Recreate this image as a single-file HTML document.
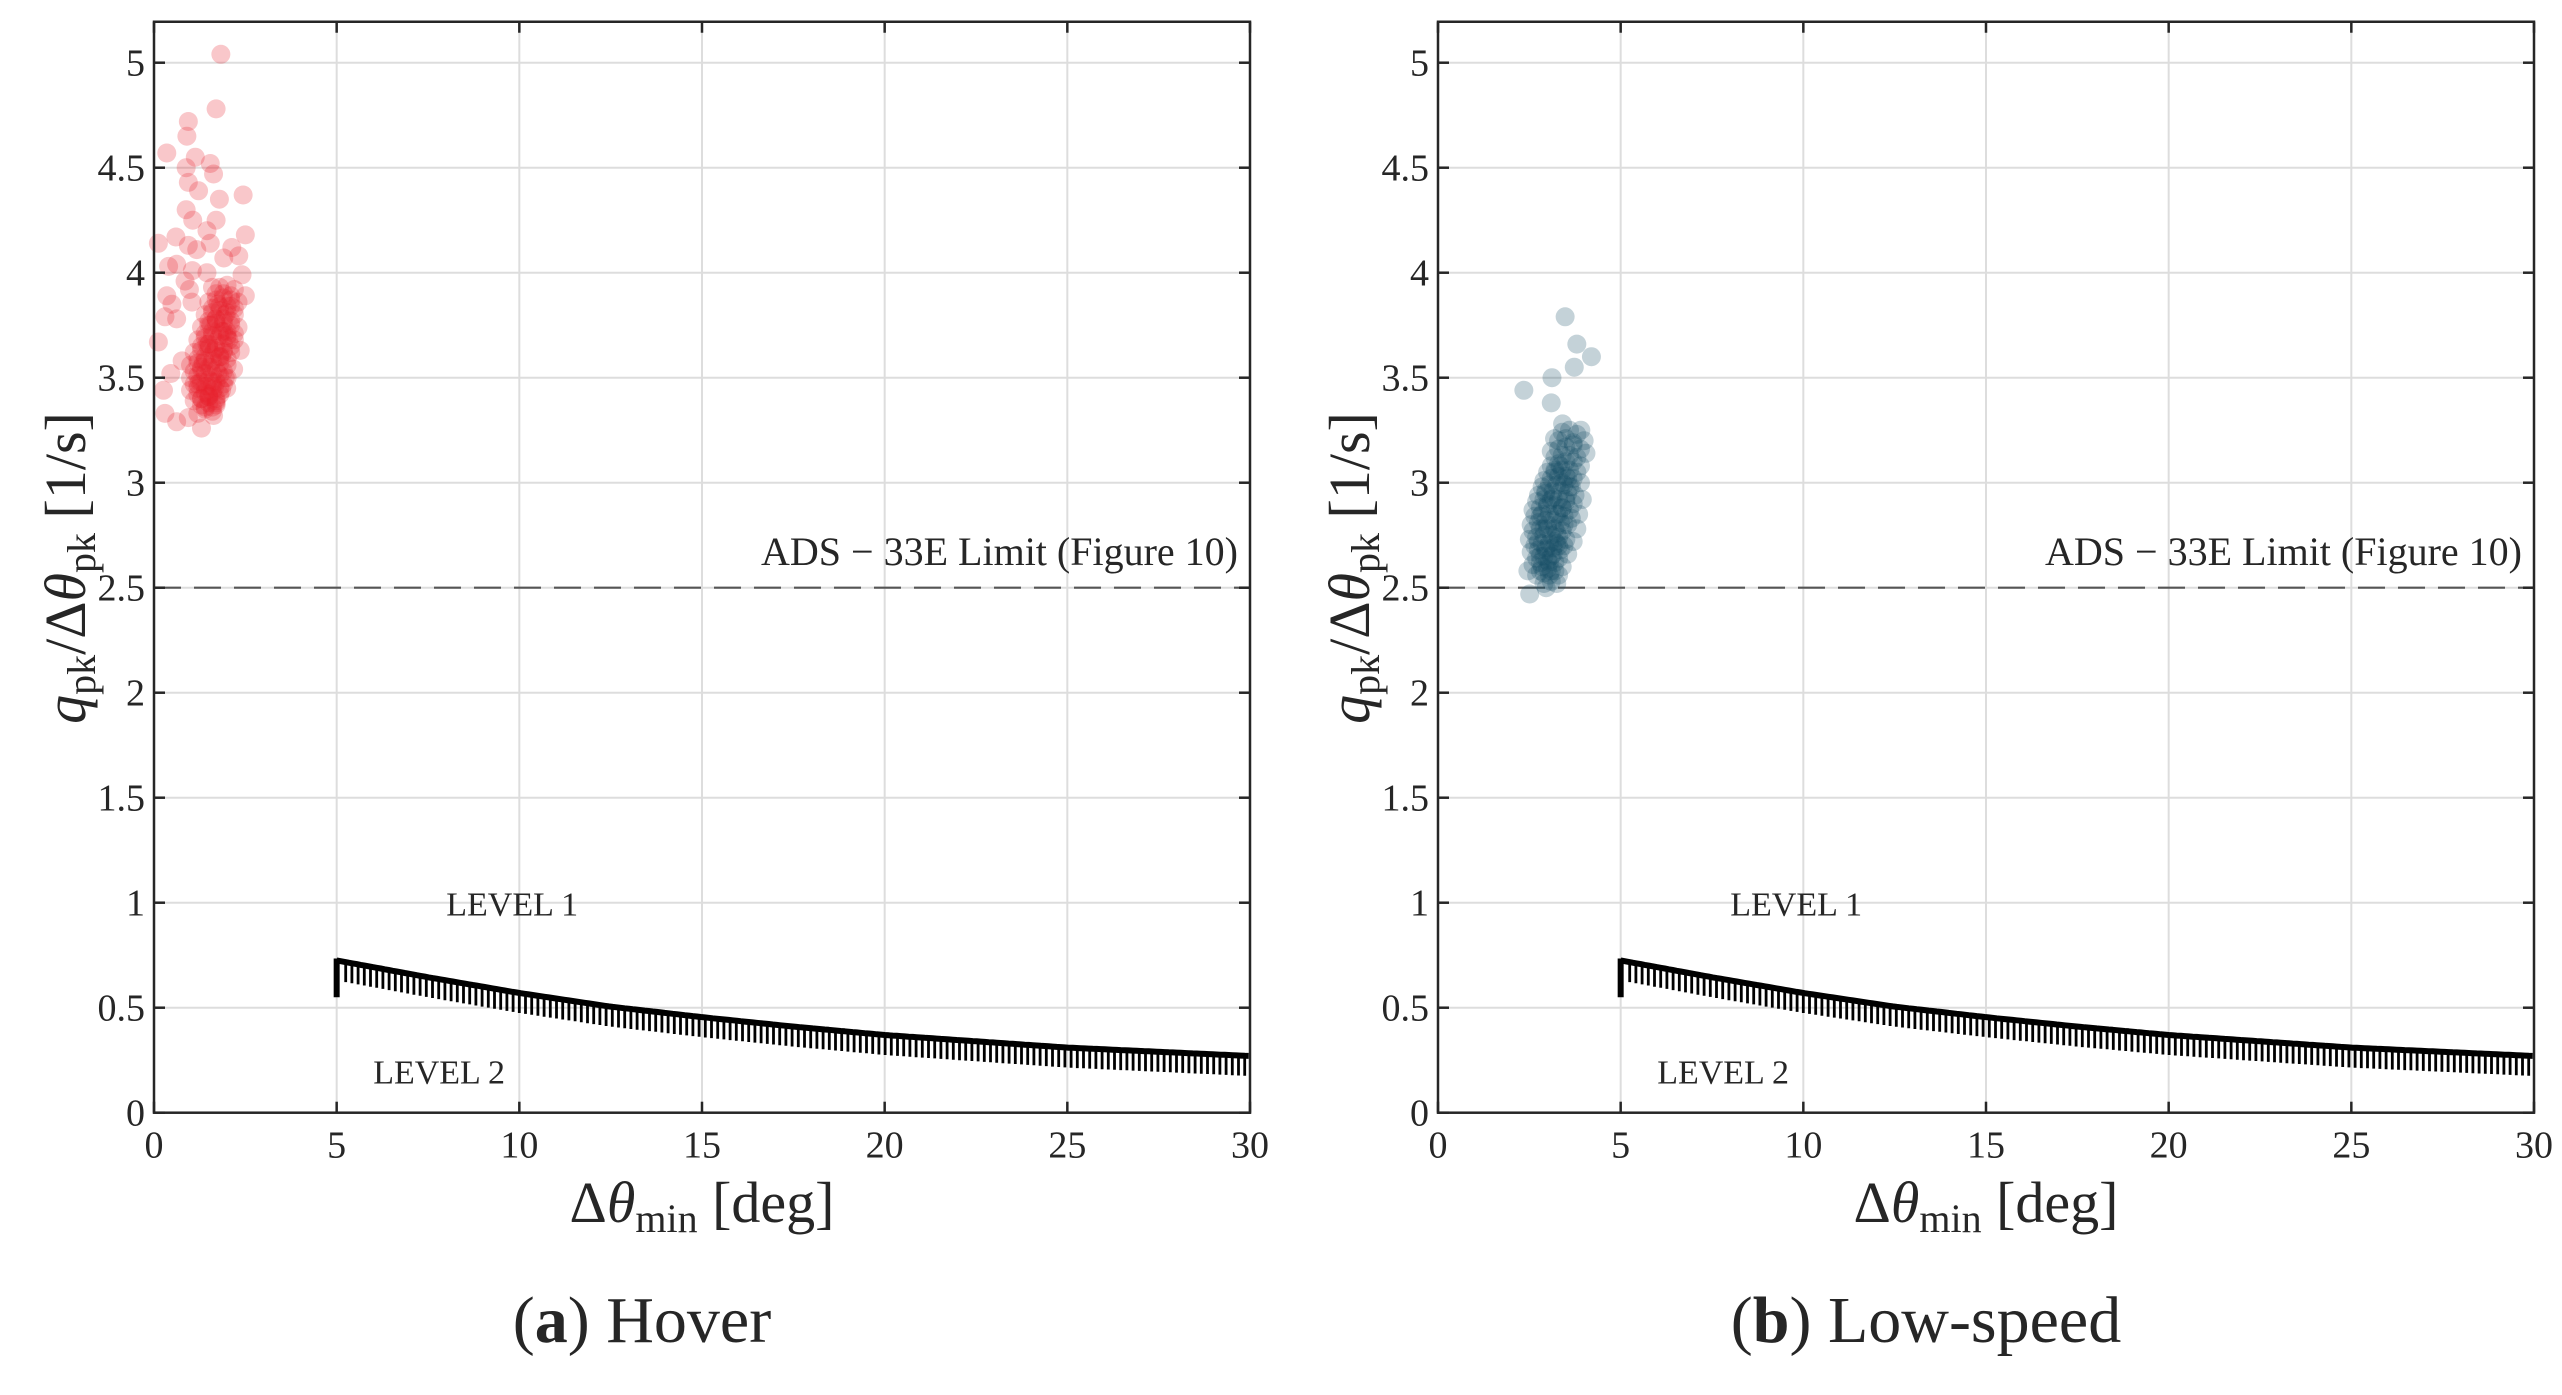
<!DOCTYPE html>
<html><head><meta charset="utf-8">
<style>
html,body{margin:0;padding:0;background:#fff;}
svg{display:block;}
text{font-family:"Liberation Serif","DejaVu Serif",serif;fill:#262626;}
</style></head>
<body>
<svg id="fig" width="2562" height="1395" viewBox="0 0 2562 1395" xmlns="http://www.w3.org/2000/svg"></svg>
<script>
// ---- data ----
const xTicks = [0,5,10,15,20,25,30];
const yTicks = [0,0.5,1,1.5,2,2.5,3,3.5,4,4.5,5];
const yTickLabels = ["0","0.5","1","1.5","2","2.5","3","3.5","4","4.5","5"];
const limitValue = 2.5;
const boundaryX = [5,7.5,10,12.5,15,17.5,20,22.5,25,27.5,30];
const boundaryY = [0.725,0.645,0.57,0.505,0.455,0.41,0.37,0.34,0.31,0.29,0.27];
const boundaryStubBottom = 0.55;
// Hover scatter (outliers + dense core)
const hoverX = [1.83,1.70,0.94,0.90,0.35,1.13,1.54,0.88,1.63,0.94,1.22,2.44,1.79,0.88,1.06,1.70,1.45,0.60,2.50,0.12,0.94,1.54,1.17,2.13,2.32,1.91,0.62,0.40,1.05,1.45,2.41,0.85,0.97,0.35,2.50,1.04,0.49,0.30,0.62,0.12,0.46,0.26,0.30,0.62,0.94,1.30,1.63,0.77,2.36,2.18,1.99,
 1.6,1.8,2.0,2.2, 1.5,1.7,1.9,2.1,2.3, 1.4,1.6,1.8,2.0,2.2, 1.3,1.5,1.7,1.9,2.1,2.3, 1.2,1.4,1.6,1.8,2.0,2.2, 1.1,1.3,1.5,1.7,1.9,2.1, 1.0,1.2,1.4,1.6,1.8,2.0, 1.0,1.2,1.4,1.6,1.8,2.0, 1.0,1.2,1.4,1.6,1.8, 1.1,1.3,1.5,1.7, 1.2,1.4,1.6, 1.7,1.9,2.1,1.5,1.8,2.0,1.3,1.6,1.9,1.2,1.5,1.7,
 1.7,1.9,2.1, 1.6,1.8,2.0,2.2, 1.5,1.7,1.9,2.1, 1.4,1.6,1.8,2.0,2.2, 1.3,1.5,1.7,1.9,2.1, 1.2,1.4,1.6,1.8,2.0, 1.1,1.3,1.5,1.7,1.9, 1.1,1.3,1.5,1.7,1.9, 1.2,1.4,1.6,1.8, 1.3,1.5,1.7,
 1.75,1.95,1.55,1.85,2.05,1.45,1.65,1.85,1.35,1.55,1.75,1.95,1.25,1.45,1.65,1.85,1.3,1.5,1.7,1.4,1.6];
const hoverY = [5.04,4.78,4.72,4.65,4.57,4.55,4.52,4.50,4.47,4.43,4.39,4.37,4.35,4.30,4.25,4.25,4.20,4.17,4.18,4.14,4.13,4.14,4.11,4.12,4.08,4.07,4.04,4.03,4.01,4.00,3.99,3.96,3.92,3.89,3.89,3.86,3.85,3.79,3.78,3.67,3.52,3.44,3.33,3.29,3.31,3.26,3.32,3.58,3.63,3.54,3.45,
 3.93,3.93,3.94,3.92, 3.86,3.87,3.88,3.87,3.86, 3.80,3.81,3.82,3.81,3.80, 3.74,3.75,3.76,3.76,3.75,3.74, 3.68,3.69,3.70,3.70,3.69,3.68, 3.62,3.63,3.64,3.64,3.63,3.62, 3.56,3.57,3.58,3.58,3.57,3.56, 3.50,3.51,3.52,3.52,3.51,3.50, 3.44,3.45,3.46,3.46,3.45, 3.39,3.40,3.41,3.40, 3.33,3.35,3.34, 3.78,3.72,3.84,3.66,3.60,3.70,3.55,3.48,3.62,3.47,3.42,3.38,
 3.90,3.90,3.89, 3.83,3.84,3.84,3.83, 3.77,3.78,3.78,3.77, 3.71,3.72,3.73,3.72,3.71, 3.65,3.66,3.67,3.66,3.65, 3.59,3.60,3.61,3.60,3.59, 3.53,3.54,3.55,3.54,3.53, 3.47,3.48,3.49,3.48,3.47, 3.42,3.43,3.43,3.42, 3.37,3.38,3.37,
 3.85,3.80,3.75,3.72,3.68,3.66,3.63,3.60,3.57,3.55,3.52,3.50,3.48,3.46,3.45,3.44,3.40,3.41,3.39,3.36,3.36];
// Low-speed scatter
const lowX = [3.48,3.80,4.20,3.73,3.12,2.35,3.10,3.41,3.91,3.19,2.51,2.96,2.46,
 3.4,3.6,3.8,4.0, 3.3,3.5,3.7,3.9,4.05, 3.1,3.3,3.5,3.7,3.9, 2.9,3.1,3.3,3.5,3.7,3.9, 2.75,2.95,3.15,3.35,3.55,3.75,3.95, 2.6,2.8,3.0,3.2,3.4,3.6,3.85, 2.55,2.75,2.95,3.15,3.35,3.55,3.8, 2.5,2.7,2.9,3.1,3.3,3.5,3.7, 2.55,2.75,2.95,3.15,3.35,3.55, 2.6,2.8,3.0,3.2,3.4, 2.7,2.9,3.1,3.3, 2.9,3.1,3.25,
 3.2,3.4,3.6,3.0,3.3,3.5,2.9,3.2,3.45,2.8,3.05,3.3,
 3.3,3.5,3.7, 3.2,3.4,3.6,3.8, 3.0,3.2,3.4,3.6,3.8, 2.85,3.05,3.25,3.45,3.65, 2.7,2.9,3.1,3.3,3.5,3.7, 2.65,2.85,3.05,3.25,3.45,3.65, 2.6,2.8,3.0,3.2,3.4, 2.65,2.85,3.05,3.25,3.45, 2.7,2.9,3.1,3.3, 2.8,3.0,3.2,
 3.1,3.35,3.55,2.95,3.15,3.4,2.8,3.0,3.25,2.75,2.95,3.15,2.85,3.05];
const lowY = [3.79,3.66,3.60,3.55,3.50,3.44,3.38,3.28,3.25,3.21,2.47,2.50,2.58,
 3.24,3.25,3.23,3.20, 3.16,3.17,3.18,3.16,3.14, 3.08,3.09,3.10,3.10,3.08, 3.01,3.02,3.03,3.03,3.02,3.00, 2.94,2.95,2.96,2.96,2.95,2.94,2.92, 2.87,2.88,2.89,2.89,2.88,2.87,2.85, 2.80,2.81,2.82,2.82,2.81,2.80,2.78, 2.73,2.74,2.75,2.75,2.74,2.73,2.72, 2.67,2.68,2.69,2.69,2.68,2.66, 2.61,2.62,2.63,2.62,2.60, 2.56,2.57,2.58,2.56, 2.52,2.53,2.52,
 3.05,3.0,2.98,2.9,2.85,2.92,2.78,2.72,2.8,2.65,2.62,2.7,
 3.20,3.21,3.19, 3.12,3.13,3.13,3.12, 3.05,3.06,3.06,3.06,3.05, 2.98,2.99,2.99,2.99,2.98, 2.91,2.92,2.92,2.92,2.91,2.90, 2.84,2.85,2.85,2.85,2.84,2.83, 2.77,2.78,2.78,2.78,2.77, 2.70,2.71,2.71,2.71,2.70, 2.64,2.65,2.65,2.64, 2.58,2.59,2.58,
 3.15,3.08,3.02,2.96,2.93,2.88,2.84,2.80,2.76,2.72,2.68,2.66,2.60,2.56];

// ---- drawing ----
const NS = "http://www.w3.org/2000/svg";
const svg = document.getElementById('fig');
function mk(tag, attrs, parent){
  const e = document.createElementNS(NS, tag);
  for (const k in attrs) e.setAttribute(k, attrs[k]);
  (parent||svg).appendChild(e);
  return e;
}
const Y0 = 1112.7, YS = 210, YMAX = 5.195;
const PW = 1096;

function drawPanel(left, px, py, color, alpha, panelName, capLetter, capText){
  const right = left + PW;
  const sx = v => left + v * PW / 30;
  const sy = v => Y0 - v * YS;
  const top = sy(YMAX);
  const g = mk('g', {});
  
  

  const grid = mk('g', {}, g);
  
  
  xTicks.forEach(t => { if (t>0 && t<30) mk('line',{x1:sx(t),x2:sx(t),y1:top,y2:Y0,stroke:'#dddddd','stroke-width':2},grid); });
  yTicks.forEach(t => { if (t>0) mk('line',{x1:left,x2:right,y1:sy(t),y2:sy(t),stroke:'#dddddd','stroke-width':2},grid); });

  const lim = mk('line',{x1:left,x2:right,y1:sy(limitValue),y2:sy(limitValue),stroke:'#555','stroke-width':2.2,'stroke-dasharray':'27 13'}, g);
  
  
  const lt = mk('text',{x:right-12,y:565,'font-size':40,'text-anchor':'end'}, g);
  lt.textContent = 'ADS \u2212 33E Limit (Figure 10)';
  
  

  const sc = mk('g', {}, g);
  
  
  px.forEach((v,i) => {
    const c = mk('circle',{cx:sx(v),cy:sy(py[i]),r:9.5,fill:color,'fill-opacity':alpha}, sc);
    
    
  });

  const bd = mk('g', {}, g);
  
  
  const bx0 = boundaryX[0], bx1 = boundaryX[boundaryX.length-1];
  const interp = x => {
    x = Math.min(Math.max(x, bx0), bx1);
    for (let i=0;i<boundaryX.length-1;i++){
      if (x>=boundaryX[i] && x<=boundaryX[i+1]){
        const f=(x-boundaryX[i])/(boundaryX[i+1]-boundaryX[i]);
        return boundaryY[i]+f*(boundaryY[i+1]-boundaryY[i]);
      }
    }
    return boundaryY[boundaryY.length-1];
  };
  let hp = '';
  const x0 = sx(bx0), x1 = sx(bx1);
  for (let X = x0 + 9; X <= x1; X += 6.2){
    const v = interp((X-left)*30/PW);
    const yy = sy(v);
    hp += `M${X.toFixed(1)} ${yy.toFixed(1)}V${(yy+20).toFixed(1)}`;
  }
  mk('path',{d:hp,stroke:'#000','stroke-width':2.8,fill:'none'}, bd);
  let d = '';
  for (let X = x0; X <= x1+0.1; X += 4){
    const v = interp((X-left)*30/PW);
    d += (d?'L':'M') + X.toFixed(1) + ' ' + sy(v).toFixed(1);
  }
  mk('path',{d:d,stroke:'#000','stroke-width':6,fill:'none','stroke-linejoin':'round'}, bd);
  mk('line',{x1:x0,x2:x0,y1:sy(boundaryY[0])-2,y2:sy(boundaryStubBottom),stroke:'#000','stroke-width':6}, bd);

  const l1 = mk('text',{x:sx(8),y:sy(1)+13,'font-size':34}, g);
  l1.textContent = 'LEVEL 1';
  
  
  const l2 = mk('text',{x:sx(6),y:sy(0.2)+13,'font-size':34}, g);
  l2.textContent = 'LEVEL 2';
  
  

  const box = mk('rect',{x:left,y:top,width:PW,height:Y0-top,fill:'none',stroke:'#262626','stroke-width':2.5}, g);
  
  

  const tk = mk('g', {}, g);
  
  
  xTicks.forEach(t => {
    mk('line',{x1:sx(t),x2:sx(t),y1:Y0,y2:Y0-11,stroke:'#262626','stroke-width':2.5},tk);
    mk('line',{x1:sx(t),x2:sx(t),y1:top,y2:top+11,stroke:'#262626','stroke-width':2.5},tk);
    const tx = mk('text',{x:sx(t),y:Y0+45,'font-size':38,'text-anchor':'middle'},tk);
    tx.textContent = String(t);
    
    
  });
  yTicks.forEach((t,i) => {
    mk('line',{x1:left,x2:left+11,y1:sy(t),y2:sy(t),stroke:'#262626','stroke-width':2.5},tk);
    mk('line',{x1:right,x2:right-11,y1:sy(t),y2:sy(t),stroke:'#262626','stroke-width':2.5},tk);
    const ty = mk('text',{x:left-9,y:sy(t)+13,'font-size':38,'text-anchor':'end'},tk);
    ty.textContent = yTickLabels[i];
    
    
  });

  const xt = mk('text',{x:left+PW/2,y:1222,'font-size':58,'text-anchor':'middle'}, g);
  xt.innerHTML = '\u0394<tspan font-style="italic">\u03b8</tspan><tspan font-size="40" dy="10">min</tspan><tspan dy="-10"> [deg]</tspan>';
  
  
  const yt = mk('text',{x:0,y:0,'font-size':58,'text-anchor':'middle',transform:`translate(${left-69},568) rotate(-90)`}, g);
  yt.innerHTML = '<tspan font-style="italic">q</tspan><tspan font-size="40" dy="10">pk</tspan><tspan dy="-10">/\u0394</tspan><tspan font-style="italic">\u03b8</tspan><tspan font-size="40" dy="10">pk</tspan><tspan dy="-10"> [1/s]</tspan>';
  
  

  const cp = mk('text',{x:left+PW/2-60,y:1342,'font-size':66,'text-anchor':'middle'}, g);
  cp.innerHTML = '(<tspan font-weight="bold">' + capLetter + '</tspan>) ' + capText;
  
  
}

drawPanel(154, hoverX, hoverY, '#e8202a', 0.25, 'hover-panel', 'a', 'Hover');
drawPanel(1438, lowX, lowY, '#124a63', 0.25, 'low-speed-panel', 'b', 'Low-speed');
</script>
</body></html>
